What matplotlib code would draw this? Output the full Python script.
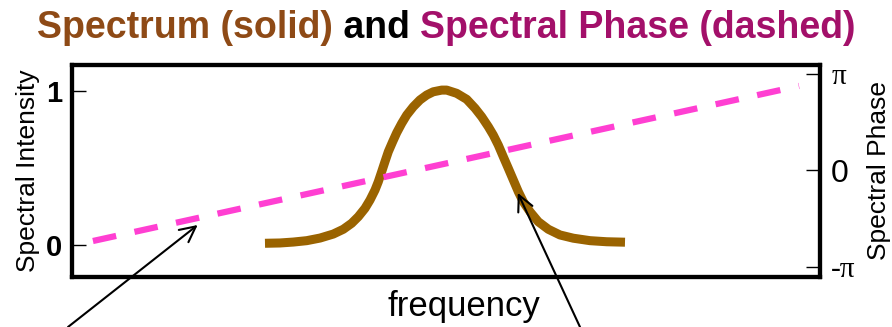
import numpy as np
import matplotlib
matplotlib.use("Agg")
import matplotlib.pyplot as plt

# ---- data ----
freq = [25.80, 27.81, 29.59, 31.38, 33.16, 34.93, 36.27, 37.39, 38.28, 39.17,
        39.84, 40.51, 40.95, 41.40, 41.84, 42.29, 42.87, 43.41, 44.08, 44.75,
        45.63, 46.52, 47.42, 48.30, 49.43, 50.09, 51.43, 52.77, 53.88, 54.77,
        55.66, 56.32, 56.99, 57.66, 58.33, 59.00, 59.67, 60.33, 61.23, 62.34,
        63.68, 65.24, 67.02, 69.25, 71.48, 73.93]
intensity = [0.011, 0.013, 0.019, 0.028, 0.045, 0.071, 0.102, 0.141, 0.184, 0.238,
             0.292, 0.357, 0.411, 0.476, 0.541, 0.606, 0.671, 0.729, 0.790, 0.844,
             0.898, 0.942, 0.974, 0.995, 1.006, 1.006, 0.985, 0.946, 0.888, 0.833,
             0.768, 0.714, 0.649, 0.573, 0.498, 0.422, 0.346, 0.281, 0.216, 0.151,
             0.102, 0.065, 0.044, 0.028, 0.021, 0.018]
phase_freq = [2.8, 97.2]
phase = [-0.731 * np.pi, 0.876 * np.pi]

left_ticks = [0, 1]
left_ticklabels = ["0", "1"]
right_ticks = [-np.pi, 0, np.pi]
right_ticklabels = ["-π", "0", "π"]

title_parts = ["Spectrum (solid)", " and ", "Spectral Phase (dashed)"]
title_colors = ["#8E4A16", "#000000", "#A3106A"]

W, H = 892, 327
fig = plt.figure(figsize=(W / 100, H / 100), dpi=100)
ax = fig.add_axes([72 / W, 1 - 277 / H, (820 - 72) / W, (277 - 65) / H])
ax2 = ax.twinx()

curve_color = "#9A6300"
dash_color = "#FF3FD2"

ax.plot(freq, intensity, color=curve_color, lw=6.5, solid_capstyle="butt",
        solid_joinstyle="round", zorder=3)
ax2.plot(phase_freq, phase, color=dash_color, lw=4.5, dashes=(3.8, 3.0),
         dash_capstyle="butt", zorder=2)

ax.set_xlim(0, 100)
ax.set_ylim(-0.208, 1.169)
ax2.set_ylim(-1.104 * np.pi, 1.093 * np.pi)

ax.set_xticks([])
ax.set_yticks(left_ticks)
ax.set_yticklabels(left_ticklabels, fontsize=21, fontweight="bold",
                   family="Liberation Sans")
ax2.set_yticks(right_ticks)
ax2.set_yticklabels(right_ticklabels, fontsize=21, family="Liberation Serif")
for lab in ax2.get_yticklabels():
    if lab.get_text() == "0":
        lab.set_family("Liberation Sans")
        lab.set_fontsize(23)

ax.tick_params(axis="y", direction="in", length=10, width=1, pad=7)
ax2.tick_params(axis="y", direction="in", length=10, width=1, pad=8)

for a in (ax, ax2):
    for s in a.spines.values():
        s.set_linewidth(3)
        s.set_color("black")

ax.set_ylabel("Spectral Intensity", fontsize=19, family="Liberation Sans", labelpad=4)
ax2.set_ylabel("Spectral Phase", fontsize=19, family="Liberation Sans", labelpad=8)
ax.set_xlabel("frequency", fontsize=25, family="Liberation Sans")
ax.xaxis.set_label_coords((464 - 72) / 748, -0.06)
ax.xaxis.label.set_va("top")

# ---- arrows ----
arrow_kw = dict(arrowstyle="->", color="black", lw=1.5, mutation_scale=28,
                shrinkA=0, shrinkB=0)
ax2.annotate("", xy=(16.8, -0.565 * np.pi), xycoords="data",
             xytext=(68 / W, 0), textcoords="figure fraction",
             arrowprops=arrow_kw, annotation_clip=False)
ax.annotate("", xy=(59.6, 0.338), xycoords="data",
            xytext=(580 / W, 0), textcoords="figure fraction",
            arrowprops=arrow_kw, annotation_clip=False)

# ---- multicolored title ----
fig.canvas.draw()
renderer = fig.canvas.get_renderer()
texts = []
for part, col in zip(title_parts, title_colors):
    t = fig.text(0, 1 - 28 / H, part, color=col, fontsize=27, fontweight="bold",
                 family="Liberation Sans", va="center", ha="left")
    texts.append(t)
widths = [t.get_window_extent(renderer).width for t in texts]
total = sum(widths)
x0 = (446 - total / 2)
for t, w in zip(texts, widths):
    t.set_x(x0 / W)
    x0 += w

fig.savefig("out.png", dpi=100)
